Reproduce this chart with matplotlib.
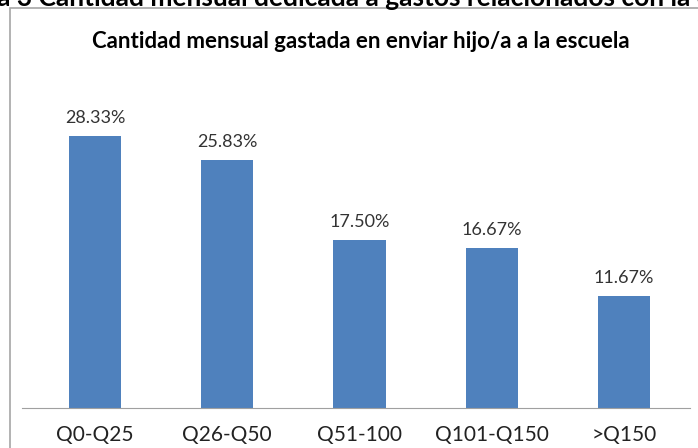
import matplotlib.pyplot as plt
from matplotlib.patches import Rectangle

# Data
categories = ["Q0-Q25", "Q26-Q50", "Q51-100", "Q101-Q150", ">Q150"]
percentages = [28.33, 25.83, 17.50, 16.67, 11.67]
value_labels = ["28.33%", "25.83%", "17.50%", "16.67%", "11.67%"]

TITLE = "Cantidad mensual gastada en enviar hijo/a a la escuela"
CAPTION = "Figura 3 Cantidad mensual dedicada a gastos relacionados con la escuela"

W, H = 698, 448
fig = plt.figure(figsize=(W / 100, H / 100), dpi=100)
plt.rcParams['font.family'] = ['Lato', 'DejaVu Sans']

# chart frame (runs off the right and bottom edge)
fig.patches.append(Rectangle((10 / W, -0.05), 1.2, (H - 8) / H + 0.05,
                             transform=fig.transFigure, fill=False,
                             edgecolor="#a6a6a6", linewidth=1.2))

# caption of the document, cut off at the top of the page crop
fig.text(-0.09, 1 - 6 / H, CAPTION, fontsize=19, fontweight="bold",
         ha="left", va="baseline", color="black")

ax = fig.add_axes([22 / W, 40 / H, 668 / W, 288 / H])
x = range(len(categories))
bars = ax.bar(x, percentages, width=0.395, color="#4f81bd")
ax.set_xlim(-0.553, 4.5)
ax.set_ylim(0, 30)

for b, lab in zip(bars, value_labels):
    ax.text(b.get_x() + b.get_width() / 2, b.get_height() + 1.0, lab,
            ha="center", va="bottom", fontsize=13, color="#333333")

ax.set_xticks(list(x))
ax.set_xticklabels(categories, fontsize=15, color="#222222")
ax.tick_params(axis="x", length=0, pad=12)
ax.set_yticks([])
for s in ["top", "right", "left"]:
    ax.spines[s].set_visible(False)
ax.spines["bottom"].set_color("#a0a0a0")

fig.text(361 / W, 1 - 42 / H, TITLE, fontsize=16, fontweight="bold",
         ha="center", va="center", color="black")

fig.savefig("out.png", dpi=100)
